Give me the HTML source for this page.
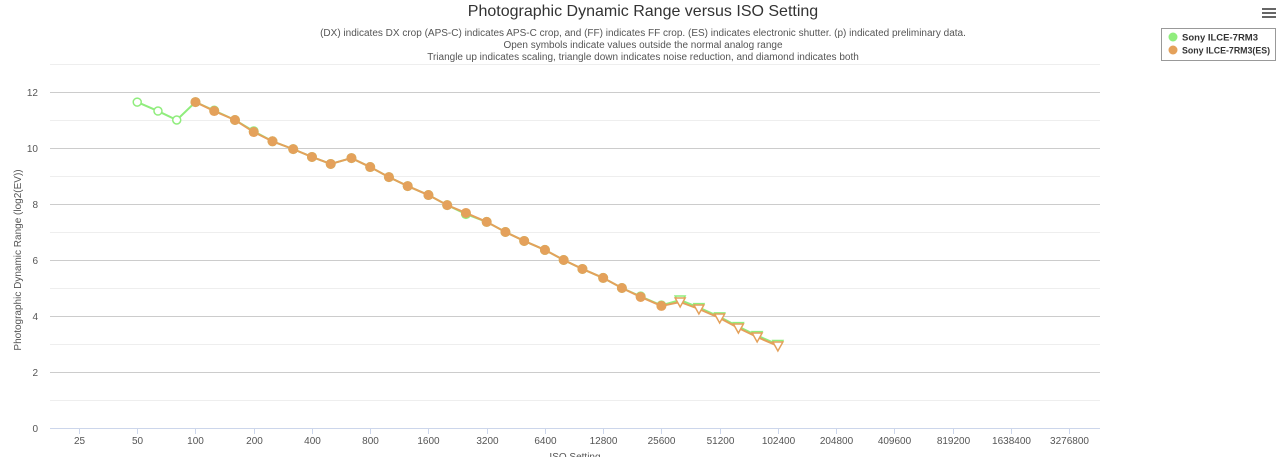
<!DOCTYPE html>
<html><head><meta charset="utf-8"><style>
body{margin:0;background:#fff;font-family:"Liberation Sans",sans-serif}
svg text{font-family:"Liberation Sans",sans-serif}
</style></head><body>
<svg id="c" width="1280" height="457" xmlns="http://www.w3.org/2000/svg">
<text x="643" y="16" text-anchor="middle" font-size="16" fill="#333">Photographic Dynamic Range versus ISO Setting</text>
<g font-size="10" fill="#555" text-anchor="middle">
<text x="643" y="36">(DX) indicates DX crop (APS-C) indicates APS-C crop, and (FF) indicates FF crop. (ES) indicates electronic shutter. (p) indicated preliminary data.</text>
<text x="643" y="48">Open symbols indicate values outside the normal analog range</text>
<text x="643" y="60">Triangle up indicates scaling, triangle down indicates noise reduction, and diamond indicates both</text>
</g>
<g id="grid"></g><g id="axes"></g><g id="series"></g>
<text transform="translate(21,260) rotate(-90)" text-anchor="middle" font-size="10" fill="#555">Photographic Dynamic Range (log2(EV))</text>
<text x="575" y="460" text-anchor="middle" font-size="10" fill="#555">ISO Setting</text>
<g>
<rect x="1161.5" y="28.5" width="114" height="32" fill="#fff" stroke="#999"/>
<g><circle cx="1173" cy="37" r="4.5" fill="#90ed7d"/><text x="1182" y="40.5" font-size="9.5" font-weight="bold" fill="#333" textLength="76" lengthAdjust="spacingAndGlyphs">Sony ILCE-7RM3</text></g>
<g><circle cx="1173" cy="50" r="4.5" fill="#e4a15b"/><text x="1182" y="53.5" font-size="9.5" font-weight="bold" fill="#333" textLength="88" lengthAdjust="spacingAndGlyphs">Sony ILCE-7RM3(ES)</text></g>
</g>
<g stroke="#666" stroke-width="2"><line x1="1262" y1="9" x2="1276" y2="9"/><line x1="1262" y1="13" x2="1276" y2="13"/><line x1="1262" y1="17" x2="1276" y2="17"/></g>
</svg>
<script>
const xTicks=[25,50,100,200,400,800,1600,3200,6400,12800,25600,51200,102400,204800,409600,819200,1638400,3276800];
const yTicks=[0,2,4,6,8,10,12];
const isoA=[50,64,80,100,125,160,200,250,320,400,500,640,800,1000,1250,1600,2000,2500,3200,4000,5000,6400,8000,10000,12800,16000,20000,25600,32000,40000,51200,64000,80000,102400];
const drA=[11.64,11.32,11.0,11.64,11.34,11.0,10.6,10.24,9.96,9.68,9.43,9.64,9.32,8.96,8.64,8.32,7.96,7.64,7.36,7.0,6.68,6.36,6.0,5.68,5.36,5.0,4.7,4.38,4.57,4.3,3.97,3.62,3.3,2.98];
const shapeA=["o","o","o","f","f","f","f","f","f","f","f","f","f","f","f","f","f","f","f","f","f","f","f","f","f","f","f","f","t","t","t","t","t","t"];
const isoB=[100,125,160,200,250,320,400,500,640,800,1000,1250,1600,2000,2500,3200,4000,5000,6400,8000,10000,12800,16000,20000,25600,32000,40000,51200,64000,80000,102400];
const drB=[11.64,11.32,11.0,10.57,10.24,9.96,9.68,9.43,9.64,9.32,8.96,8.64,8.32,7.96,7.68,7.36,7.0,6.68,6.36,6.0,5.68,5.36,5.0,4.68,4.36,4.5,4.25,3.93,3.57,3.25,2.93];
const shapeB=["f","f","f","f","f","f","f","f","f","f","f","f","f","f","f","f","f","f","f","f","f","f","f","f","f","t","t","t","t","t","t"];
const L=50,R=1100,T=92,B=428;
const X=v=>79+(Math.log2(v/25))*58.24;
const Y=v=>B-(v/12)*(B-T);
const NS="http://www.w3.org/2000/svg";
function mk(p,t,a){const e=document.createElementNS(NS,t);for(const k in a)e.setAttribute(k,a[k]);p.appendChild(e);return e;}
const grid=document.getElementById('grid'),axes=document.getElementById('axes'),ser=document.getElementById('series');
for(let v=1;v<=13;v++){const g=mk(grid,'line',{x1:L,x2:R,y1:Y(v)+.5,y2:Y(v)+.5,stroke:v%2?'#eeeeee':'#cccccc'});

}
yTicks.forEach(v=>{const t=mk(axes,'text',{x:38,y:Y(v)+4,'text-anchor':'end','font-size':10,fill:'#555'});t.textContent=v;

});
const ax=mk(axes,'line',{x1:L,x2:R,y1:B+.5,y2:B+.5,stroke:'#ccd6eb'});


xTicks.forEach(v=>{const x=Math.round(X(v))+.5;mk(axes,'line',{x1:x,x2:x,y1:B,y2:B+6,stroke:'#ccd6eb'});
const t=mk(axes,'text',{x:x,y:B+16,'text-anchor':'middle','font-size':10,fill:'#555'});t.textContent=v;

});
function series(iso,dr,sh,col,name){
const g=mk(ser,'g',{});


const l=mk(g,'polyline',{points:iso.map((v,i)=>X(v)+','+Y(dr[i])).join(' '),fill:'none',stroke:col,'stroke-width':2});


iso.forEach((v,i)=>{const x=X(v),y=Y(dr[i]);let m;
if(sh[i]==='t')m=mk(g,'path',{d:`M${x-5},${y-4}L${x+5},${y-4}L${x},${y+5}Z`,fill:'#fff',stroke:col,'stroke-width':1.5});
else m=mk(g,'circle',{cx:x,cy:y,r:sh[i]==='o'?4:5,fill:sh[i]==='o'?'#fff':col,stroke:col,'stroke-width':sh[i]==='o'?1.5:0});

});}
series(isoA,drA,shapeA,'#90ed7d','series-ilce-7rm3');
series(isoB,drB,shapeB,'#e4a15b','series-ilce-7rm3-es');
</script>
</body></html>
